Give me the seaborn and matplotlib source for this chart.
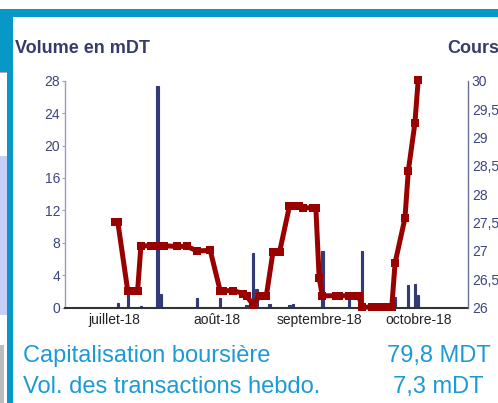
import matplotlib
matplotlib.use('Agg')
import matplotlib.pyplot as plt
from matplotlib.patches import Rectangle
import pandas as pd
import seaborn as sns

sns.set_style('white')
plt.rcParams['font.family'] = ['Liberation Sans', 'DejaVu Sans']

# cours (right axis)
price_dates = ['2018-07-01', '2018-07-02', '2018-07-05', '2018-07-06', '2018-07-08',
               '2018-07-09', '2018-07-12', '2018-07-13', '2018-07-14', '2018-07-16',
               '2018-07-20', '2018-07-23', '2018-07-26', '2018-07-30', '2018-08-02',
               '2018-08-03', '2018-08-06', '2018-08-09', '2018-08-10', '2018-08-12',
               '2018-08-14', '2018-08-16', '2018-08-18', '2018-08-20', '2018-08-23',
               '2018-08-24', '2018-08-26', '2018-08-27', '2018-08-30', '2018-08-31',
               '2018-09-01', '2018-09-02', '2018-09-06', '2018-09-07', '2018-09-10',
               '2018-09-11', '2018-09-13', '2018-09-14', '2018-09-17', '2018-09-19',
               '2018-09-21', '2018-09-23', '2018-09-24', '2018-09-27', '2018-09-28',
               '2018-09-30', '2018-10-01']
price_values = [27.51, 27.51, 26.30, 26.30, 26.30,
                27.09, 27.09, 27.09, 27.09, 27.09,
                27.08, 27.08, 27.00, 27.01, 26.30,
                26.30, 26.30, 26.25, 26.21, 26.05,
                26.21, 26.21, 26.98, 26.98, 27.79,
                27.79, 27.79, 27.76, 27.76, 27.76,
                26.52, 26.21, 26.21, 26.21, 26.21,
                26.21, 26.21, 26.01, 26.01, 26.01,
                26.01, 26.01, 26.79, 27.58, 28.41,
                29.25, 30.01]

# volume en mDT (left axis)
vol_dates = ['2018-07-02', '2018-07-05', '2018-07-09', '2018-07-14', '2018-07-15',
             '2018-07-26', '2018-08-02', '2018-08-10', '2018-08-12', '2018-08-13',
             '2018-08-17', '2018-08-23', '2018-08-24', '2018-08-27', '2018-09-02',
             '2018-09-10', '2018-09-14', '2018-09-24', '2018-09-28', '2018-09-30',
             '2018-10-01']
vol_values = [0.55, 1.75, 0.2, 27.3, 1.7,
              1.2, 1.2, 0.35, 6.8, 2.35,
              0.45, 0.35, 0.45, 0.1, 7.0,
              1.25, 7.0, 1.35, 2.8, 2.9,
              1.55]

month_ticks = ['2018-07-01', '2018-08-01', '2018-09-01', '2018-10-01']
month_labels = ['juillet-18', 'août-18', 'septembre-18', 'octobre-18']
vol_ticks = [0, 4, 8, 12, 16, 20, 24, 28]
price_ticks = [26, 26.5, 27, 27.5, 28, 28.5, 29, 29.5, 30]
price_tick_labels = ['26', '26,5', '27', '27,5', '28', '28,5', '29', '29,5', '30']

navy = '#323a78'
red = '#990000'
txt_navy = '#363b6e'
light_blue = '#1c9ad6'
frame_blue = '#0798c8'

df_price = pd.DataFrame({'Date': pd.to_datetime(price_dates), 'Cours': price_values})
df_vol = pd.DataFrame({'Date': pd.to_datetime(vol_dates), 'Volume': vol_values})

fig = plt.figure(figsize=(4.98, 4.03), dpi=100)

# frame decorations
W, H = 498, 403
def box(x0, y0, x1, y1, color):
    fig.patches.append(Rectangle((x0 / W, 1 - y1 / H), (x1 - x0) / W, (y1 - y0) / H,
                                 transform=fig.transFigure, color=color, zorder=0, lw=0))
box(0, 9.3, 498, 16.7, frame_blue)
box(0, 9.3, 13.3, 72, frame_blue)
box(7.3, 72, 13.3, 403, frame_blue)
box(0, 72, 7.3, 73, '#b0b0b0')
box(0, 156, 7.3, 315, '#c7cff7')
box(0, 345, 4, 403, '#bdbdbd')

ax = fig.add_axes([65 / W, 1 - 307.7 / H, 402.7 / W, 227 / H])
ax.bar(df_vol['Date'], df_vol['Volume'], width=0.7, color=navy,
       edgecolor=navy, linewidth=0.8, zorder=2)
ax.set_ylim(0, 28)
ax.set_yticks(vol_ticks)

ax2 = ax.twinx()
sns.lineplot(data=df_price, x='Date', y='Cours', ax=ax2, color=red, lw=3.6,
             marker='s', markersize=5.5, markeredgewidth=0, clip_on=False)
ax2.set_ylim(26, 30)
ax2.set_yticks(price_ticks)
ax2.set_yticklabels(price_tick_labels)
ax2.set_xlabel('')
ax2.set_ylabel('')

ax.set_xlim(pd.Timestamp('2018-06-16'), pd.Timestamp('2018-10-16'))
ax.set_xticks(pd.to_datetime(month_ticks))
ax.set_xticklabels(month_labels)
ax.set_xlabel('')
ax.set_ylabel('')

for a in (ax, ax2):
    a.grid(False)
    a.spines['top'].set_visible(False)
    a.patch.set_visible(False)
ax.spines['right'].set_visible(False)
ax2.spines['left'].set_visible(False)
ax2.spines['bottom'].set_visible(False)
ax.spines['left'].set_color('#9a9cc0')
ax.spines['left'].set_linewidth(1)
ax.spines['bottom'].set_color('#333333')
ax.spines['bottom'].set_linewidth(1.5)
ax2.spines['right'].set_color('#6a6f98')
ax2.spines['right'].set_linewidth(1)

ax.tick_params(axis='y', labelsize=10, labelcolor='#3d4580', length=2, width=0.8,
               color='#9a9cc0', pad=1.5, left=True)
ax.tick_params(axis='x', labelsize=10, labelcolor='#222222', length=0, pad=3.5)
ax2.tick_params(axis='y', labelsize=10, labelcolor='#3d4580', length=0, pad=3, right=True)

fig.text(15 / W, 1 - 53.3 / H, 'Volume en mDT', fontsize=13, fontweight='bold',
         color=txt_navy, ha='left', va='baseline')
fig.text(447 / W, 1 - 53.3 / H, 'Cours', fontsize=13, fontweight='bold',
         color=txt_navy, ha='left', va='baseline')

fig.text(23 / W, 1 - 361.7 / H, 'Capitalisation boursière', fontsize=17,
         color=light_blue, ha='left', va='baseline')
fig.text(491 / W, 1 - 361.7 / H, '79,8 MDT', fontsize=17,
         color=light_blue, ha='right', va='baseline')
fig.text(23 / W, 1 - 393.3 / H, 'Vol. des transactions hebdo.', fontsize=17,
         color=light_blue, ha='left', va='baseline')
fig.text(483 / W, 1 - 393.3 / H, '7,3 mDT', fontsize=17,
         color=light_blue, ha='right', va='baseline')

fig.savefig('out.png', dpi=100)
